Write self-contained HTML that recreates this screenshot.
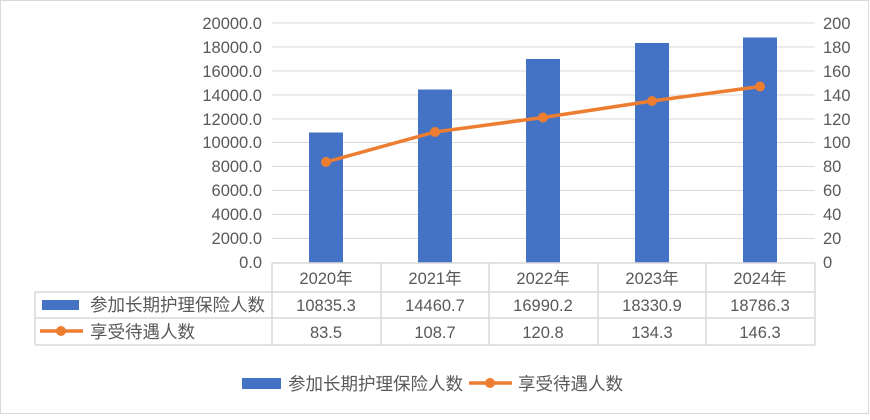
<!DOCTYPE html>
<html><head><meta charset="utf-8"><style>
body{margin:0;background:#fff}
svg text{font-family:"Liberation Sans","Noto Sans CJK SC",sans-serif;fill:#595959}
.c{font-size:17.5px}
</style></head><body>
<svg width="870" height="415" xmlns="http://www.w3.org/2000/svg">
<rect x="0.5" y="0.5" width="868" height="413" fill="#fff" stroke="#d9d9d9"/>
<g stroke="#d9d9d9" stroke-width="1">
<line x1="272" y1="23" x2="815" y2="23"/><line x1="272" y1="47" x2="815" y2="47"/>
<line x1="272" y1="71" x2="815" y2="71"/><line x1="272" y1="95" x2="815" y2="95"/>
<line x1="272" y1="119" x2="815" y2="119"/><line x1="272" y1="142.5" x2="815" y2="142.5"/>
<line x1="272" y1="166.5" x2="815" y2="166.5"/><line x1="272" y1="190.5" x2="815" y2="190.5"/>
<line x1="272" y1="214.5" x2="815" y2="214.5"/><line x1="272" y1="238.5" x2="815" y2="238.5"/>
</g>
<g font-size="16.5" text-anchor="end">
<text x="262" y="29">20000.0</text><text x="262" y="53">18000.0</text><text x="262" y="77">16000.0</text>
<text x="262" y="101">14000.0</text><text x="262" y="125">12000.0</text><text x="262" y="148">10000.0</text>
<text x="262" y="172">8000.0</text><text x="262" y="196">6000.0</text><text x="262" y="220">4000.0</text>
<text x="262" y="244">2000.0</text><text x="262" y="268">0.0</text>
</g>
<g font-size="16.5">
<text x="823" y="29">200</text><text x="823" y="53">180</text><text x="823" y="77">160</text>
<text x="823" y="101">140</text><text x="823" y="125">120</text><text x="823" y="148">100</text>
<text x="823" y="172">80</text><text x="823" y="196">60</text><text x="823" y="220">40</text>
<text x="823" y="244">20</text><text x="823" y="268">0</text>
</g>
<g fill="#4472c4">
<rect x="309" y="132.5" width="34" height="130"/>
<rect x="418" y="89.5" width="34" height="173"/>
<rect x="526" y="59" width="34" height="203.5"/>
<rect x="635" y="43" width="34" height="219.5"/>
<rect x="743" y="37.5" width="34" height="225"/>
</g>
<polyline points="326,162 435,132 543,117.5 652,101 760,86.5" fill="none" stroke="#ed7d31" stroke-width="3.5"/>
<g fill="#ed7d31">
<circle cx="326" cy="162" r="5"/><circle cx="435" cy="132" r="5"/><circle cx="543" cy="117.5" r="5"/>
<circle cx="652" cy="101" r="5"/><circle cx="760" cy="86.5" r="5"/>
</g>
<g stroke="#d9d9d9" stroke-width="1.5" fill="none">
<line x1="272" y1="263" x2="815" y2="263"/>
<line x1="35" y1="292" x2="815" y2="292"/>
<line x1="35" y1="318" x2="815" y2="318"/>
<line x1="35" y1="345" x2="815" y2="345"/>
<line x1="35" y1="292" x2="35" y2="345"/>
<line x1="272" y1="263" x2="272" y2="345"/>
<line x1="381" y1="263" x2="381" y2="345"/>
<line x1="489" y1="263" x2="489" y2="345"/>
<line x1="598" y1="263" x2="598" y2="345"/>
<line x1="706" y1="263" x2="706" y2="345"/>
<line x1="815" y1="263" x2="815" y2="345"/>
</g>
<g font-size="16.5" text-anchor="middle">
<text x="326" y="284">2020年</text><text x="435" y="284">2021年</text><text x="543" y="284">2022年</text><text x="652" y="284">2023年</text><text x="760" y="284">2024年</text>
<text x="326" y="311">10835.3</text><text x="435" y="311">14460.7</text><text x="543" y="311">16990.2</text><text x="652" y="311">18330.9</text><text x="760" y="311">18786.3</text>
<text x="326" y="338">83.5</text><text x="435" y="338">108.7</text><text x="543" y="338">120.8</text><text x="652" y="338">134.3</text><text x="760" y="338">146.3</text>
</g>
<rect x="42" y="300" width="37" height="10" fill="#4472c4"/>
<text x="90" y="311" class="c">参加长期护理保险人数</text>
<line x1="40" y1="331" x2="83" y2="331" stroke="#ed7d31" stroke-width="3.5"/>
<circle cx="61" cy="331" r="5" fill="#ed7d31"/>
<text x="90" y="338" class="c">享受待遇人数</text>
<rect x="242" y="378" width="39" height="11" fill="#4472c4"/>
<text x="288" y="390" class="c">参加长期护理保险人数</text>
<line x1="469" y1="383" x2="512" y2="383" stroke="#ed7d31" stroke-width="3.5"/>
<circle cx="490" cy="383" r="5" fill="#ed7d31"/>
<text x="518" y="390" class="c">享受待遇人数</text>
</svg>
</body></html>
